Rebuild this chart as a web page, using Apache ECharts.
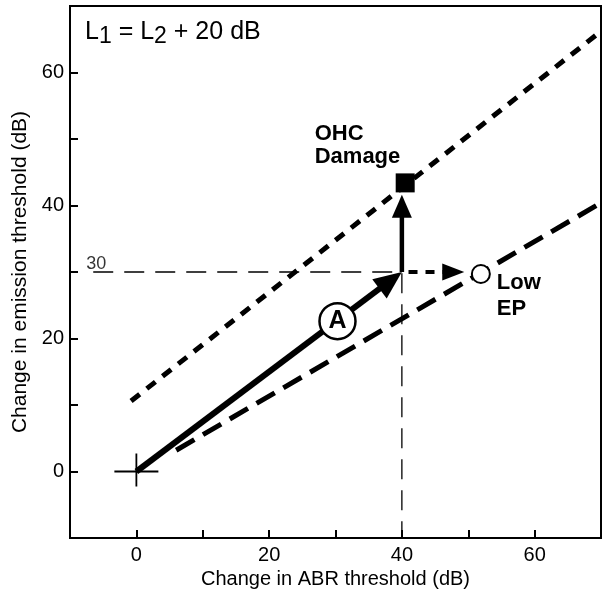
<!DOCTYPE html>
<html>
<head>
<meta charset="utf-8">
<title>Emission vs ABR threshold shift</title>
<script src="https://cdn.jsdelivr.net/npm/echarts@6/dist/echarts.min.js"></script>
<style>
    html, body { margin: 0; padding: 0; background: #fff; }
    #chart { width: 604px; height: 589px; }
</style>
</head>
<body>
<div id="chart"></div>
<script>
// axis ranges, ticks every 10 dB, labels every 20 dB
const xRange = [-10, 70];
const yRange = [-10, 70];
const tickStep = 10;
const labelStep = 20;

// dotted line through the OHC damage point
const ohcLine = [[-0.8, 10.6], [70, 66.2]];
// dashed line through the low EP point
const lowEpLine = [[6, 3.2], [70, 40.4]];
// thin dashed guide: 30 dB emission shift at 40 dB ABR shift
const guideLine = [[-6.5, 30], [40, 30], [40, -10]];
const guideLabel = '30';

// arrows as [x1, y1, x2 (tip), y2 (tip)]
const arrowA = [0, 0, 40, 30];
const arrowUp = [40, 30, 40, 41.6];
const arrowRight = [41, 30, 49.4, 30];

// markers
const originPt = [0, 0];
const ohcPt = [40.5, 43.4];
const lowEpPt = [51.9, 29.7];
const aPt = [30.3, 22.6];

const FONT = "'Liberation Sans', Arial, Helvetica, sans-serif";

// custom series: straight shaft + filled triangular head, placed with api.coord
function arrowSeries(seg, shaftWidth, headLen, headWidth, dash) {
    return {
        type: 'custom',
        data: [seg],
        encode: { x: [0, 2], y: [1, 3] },
        silent: true,
        z: 3,
        renderItem: function (params, api) {
            const p1 = api.coord([api.value(0), api.value(1)]);
            const p2 = api.coord([api.value(2), api.value(3)]);
            const len = Math.hypot(p2[0] - p1[0], p2[1] - p1[1]);
            const ux = (p2[0] - p1[0]) / len;
            const uy = (p2[1] - p1[1]) / len;
            const bx = p2[0] - ux * headLen;
            const by = p2[1] - uy * headLen;
            const hw = headWidth / 2;
            return {
                type: 'group',
                children: [
                    {
                        type: 'line',
                        shape: { x1: p1[0], y1: p1[1], x2: bx + ux, y2: by + uy },
                        style: { stroke: '#000', lineWidth: shaftWidth, lineDash: dash || null }
                    },
                    {
                        type: 'polygon',
                        shape: { points: [[p2[0], p2[1]], [bx - uy * hw, by + ux * hw], [bx + uy * hw, by - ux * hw]] },
                        style: { fill: '#000' }
                    }
                ]
            };
        }
    };
}

const chart = echarts.init(document.getElementById('chart'));

const axisCommon = {
    type: 'value',
    interval: tickStep,
    nameLocation: 'middle',
    nameTextStyle: { fontSize: 20, color: '#000', fontFamily: FONT },
    axisLine: { onZero: false, lineStyle: { color: '#000', width: 2 } },
    axisTick: { inside: true, length: 8, lineStyle: { color: '#000', width: 2 } },
    axisLabel: {
        fontSize: 20, color: '#000', fontFamily: FONT,
        formatter: v => (v % labelStep === 0 ? String(v) : '')
    },
    splitLine: { show: false }
};

const option = {
    animation: false,
    backgroundColor: '#fff',
    title: {
        text: '{t|L}{s|1}{t| = L}{s|2}{t| + 20 dB}',
        left: 85,
        top: 20,
        padding: 0,
        textStyle: {
            fontWeight: 'normal',
            rich: {
                t: { fontSize: 25, fontWeight: 'normal', fontFamily: FONT, color: '#000', lineHeight: 28, verticalAlign: 'top' },
                s: { fontSize: 23, fontWeight: 'normal', fontFamily: FONT, color: '#000', lineHeight: 28, verticalAlign: 'top', padding: [5, 0, 0, 0] }
            }
        }
    },
    grid: {
        left: 70, right: 3, top: 6, bottom: 51,
        outerBoundsMode: 'none',
        show: true, borderColor: '#000', borderWidth: 2
    },
    xAxis: Object.assign({}, axisCommon, {
        min: xRange[0], max: xRange[1],
        name: 'Change in ABR threshold (dB)',
        nameGap: 26,
        axisLabel: Object.assign({}, axisCommon.axisLabel, { margin: 7 })
    }),
    yAxis: Object.assign({}, axisCommon, {
        min: yRange[0], max: yRange[1],
        name: 'Change in emission threshold (dB)',
        nameGap: 28,
        nameTextStyle: { fontSize: 21, color: '#000', fontFamily: FONT },
        axisLabel: Object.assign({}, axisCommon.axisLabel, { margin: 6 })
    }),
    series: [
        {
            // OHC damage line (dotted)
            type: 'line', data: ohcLine, symbol: 'none', silent: true, z: 2,
            lineStyle: { color: '#000', width: 5, type: [11, 9], cap: 'butt' }
        },
        {
            // low EP line (dashed)
            type: 'line', data: lowEpLine, symbol: 'none', silent: true, z: 2,
            lineStyle: { color: '#000', width: 5, type: [21, 10], cap: 'butt' }
        },
        {
            // thin guide lines
            type: 'line', data: guideLine, symbol: 'none', silent: true, z: 1,
            lineStyle: { color: '#000', width: 1.3, type: [20, 11] }
        },
        {
            // "30" above the guide line start
            type: 'scatter', data: [guideLine[0]], symbolSize: 0, silent: true,
            label: {
                show: true, formatter: guideLabel, position: 'top', distance: 0, offset: [3, 1],
                fontSize: 18, color: '#000', fontFamily: FONT
            }
        },
        arrowSeries(arrowA, 6, 28, 24),
        arrowSeries(arrowUp, 4.5, 23, 20),
        arrowSeries(arrowRight, 4, 22, 17, [9, 8]),
        {
            // cross at the origin
            type: 'custom', data: [originPt], silent: true, z: 3,
            encode: { x: 0, y: 1 },
            renderItem: function (params, api) {
                const p = api.coord([api.value(0), api.value(1)]);
                return {
                    type: 'group',
                    children: [
                        { type: 'line', shape: { x1: p[0] - 22, y1: p[1], x2: p[0] + 22, y2: p[1] }, style: { stroke: '#000', lineWidth: 1.8 } },
                        { type: 'line', shape: { x1: p[0], y1: p[1] - 18, x2: p[0], y2: p[1] + 15 }, style: { stroke: '#000', lineWidth: 1.8 } }
                    ]
                };
            }
        },
        {
            // circled "A" on the arrow
            type: 'scatter', data: [aPt], symbol: 'circle', symbolSize: 36, silent: true, z: 4,
            itemStyle: { color: '#fff', borderColor: '#000', borderWidth: 2.5, opacity: 1 },
            label: {
                show: true, formatter: 'A', position: 'inside',
                fontSize: 25, fontWeight: 'bold', color: '#000', fontFamily: FONT
            }
        },
        {
            // OHC damage point
            type: 'scatter', data: [ohcPt], symbol: 'rect', symbolSize: 19, silent: true, z: 4,
            itemStyle: { color: '#000', opacity: 1 },
            label: {
                show: true, formatter: 'OHC\nDamage', position: [-81, -51],
                align: 'left', verticalAlign: 'top', lineHeight: 23,
                fontSize: 22, fontWeight: 'bold', color: '#000', fontFamily: FONT
            }
        },
        {
            // low EP point
            type: 'scatter', data: [lowEpPt], symbol: 'circle', symbolSize: 18, silent: true, z: 4,
            itemStyle: { color: '#fff', borderColor: '#000', borderWidth: 2, opacity: 1 },
            label: {
                show: true, formatter: 'Low\nEP', position: [26, 6],
                align: 'left', verticalAlign: 'top', lineHeight: 26,
                fontSize: 22, fontWeight: 'bold', color: '#000', fontFamily: FONT
            }
        }
    ]
};

chart.setOption(option);
</script>
</body>
</html>
